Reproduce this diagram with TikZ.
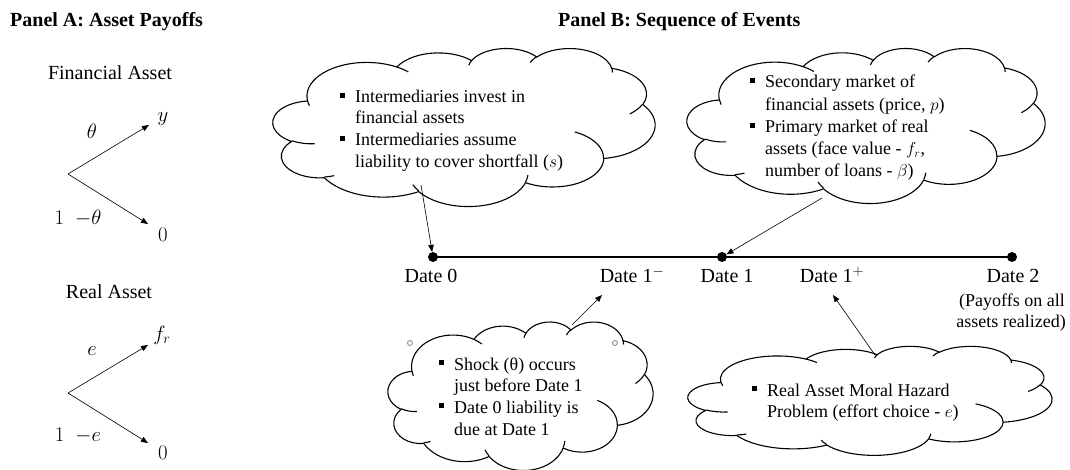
\documentclass[tikz,border=0pt]{standalone}
\usepackage{fontspec}
\setmainfont{Liberation Serif}
\usetikzlibrary{arrows.meta}

% one arc of an Office-style cloud: x radius, y radius, start angle, sweep (visual angles)
\newcommand\cldarc[4]{arc[x radius=#1, y radius=#2,
  start angle={atan2((#1)*sin(#3),(#2)*cos(#3))},
  delta angle={mod(atan2((#1)*sin((#3)+(#4)),(#2)*cos((#3)+(#4)))-atan2((#1)*sin(#3),(#2)*cos(#3))+720,360)}]}

\newcommand\drawcloud[4]{%
\begin{scope}[shift={(#1,#2)}, xscale=#3/432, yscale=#4/432]
\draw[cloudline, fill=white] (39,143.7)
 \cldarc{67.53}{91.90}{-190.4875}{123.7805}
 \cldarc{53.33}{72.67}{-144.1024}{89.9452}
 \cldarc{43.65}{59.45}{-145.8079}{99.7230}
 \cldarc{48.57}{65.95}{-130.9861}{117.2417}
 \cldarc{53.33}{72.73}{-78.7089}{109.0269}
 \cldarc{67.75}{92.20}{-46.2673}{130.2690}
 \cldarc{57.85}{78.67}{0.6250}{114.0333}
 \cldarc{67.52}{92.15}{22.4516}{115.1726}
 \cldarc{77.20}{105.43}{66.2426}{75.7110}
 \cldarc{43.60}{59.18}{-274.9421}{146.7356}
 \cldarc{43.45}{59.45}{-246.8285}{152.5189}
 -- cycle;
\draw[cloudline] (46.93,261.77) \cldarc{43.45}{59.45}{86.7420}{26.4295}
 (69.28,348.99) \cldarc{43.60}{59.18}{73.6105}{11.4475}
 (164.78,390.90) \cldarc{67.52}{92.15}{137.6242}{14.0811}
 (288.27,347.51) \cldarc{67.52}{92.15}{6.4533}{15.9984}
 (341.29,229.54) \cldarc{57.85}{78.67}{-70.2924}{70.9174}
 (417.98,153.54) \cldarc{53.33}{72.73}{30.3180}{27.7515}
 (383.24,54.26) \cldarc{48.57}{65.95}{-13.7443}{14.8589}
 (290.78,39.52) \cldarc{48.57}{65.95}{-149.1815}{18.1954}
 (221.41,47.20) \cldarc{43.65}{59.45}{-163.4943}{17.6864}
 (140.00,51.92) \cldarc{67.53}{91.90}{-66.7070}{12.3194}
 (41.27,157.89) \cldarc{67.53}{91.90}{157.6544}{11.8582};
\end{scope}}

\newcommand\blt{\makebox[15pt][l]{\rule[5pt]{5pt}{5pt}}}

\begin{document}
\begin{tikzpicture}[x=1pt,y=-1pt,line join=round,
  arr/.style={-{Triangle[length=7pt,width=5.5pt]}, line width=0.6pt},
  cloudline/.style={line width=1.1pt},
  tline/.style={line width=2pt},
  tdot/.style={circle, fill=black, inner sep=0pt, minimum size=10pt},
  lbl/.style={font=\fontsize{20}{24}\selectfont, inner sep=0pt},
  mlbl/.style={font=\fontsize{22}{26}\selectfont, inner sep=0pt},
  dlbl/.style={font=\fontsize{20}{24}\selectfont, inner sep=0pt, anchor=base},
  ctext/.style={font=\fontsize{18}{22}\selectfont, inner sep=0pt, anchor=base west},
  ptext/.style={font=\fontsize{18}{22}\selectfont, inner sep=0pt, anchor=base},
  ttl/.style={font=\fontsize{20}{24}\selectfont\bfseries, inner sep=0pt, anchor=base west},
  handle/.style={circle, draw=gray, fill=white, line width=0.8pt, inner sep=0pt, minimum size=5pt}]
\useasboundingbox (0,0) rectangle (1070,470);
\fill[white] (0,0) rectangle (1070,470);

% titles
\node[ttl] (ta) at (10,27) {Panel A: Asset Payoffs};
\node[ttl] (tb) at (558,27) {Panel B: Sequence of Events};

% Panel A
\node[lbl, anchor=base] (fa) at (110,80) {Financial Asset};
\coordinate (fr) at (68,174);
\coordinate (fu) at (149,125);
\coordinate (fd) at (148,224);
\draw[arr] (fr) -- (fu);
\draw[arr] (fr) -- (fd);
\node[mlbl] (fth) at (92,131) {$\theta$};
\node[mlbl] (fy) at (163,119) {$y$};
\node[mlbl] (f1) at (78,218) {$1\hspace{11pt}{-}\theta$};
\node[mlbl] (f0) at (163,235) {$0$};

\node[lbl, anchor=base] (ra) at (109,298) {Real Asset};
\coordinate (rr) at (68,393);
\coordinate (ru) at (148,345);
\coordinate (rd) at (148,443);
\draw[arr] (rr) -- (ru);
\draw[arr] (rr) -- (rd);
\node[mlbl] (re) at (92,351) {$e$};
\node[mlbl] (rf) at (162,335) {$f_r$};
\node[mlbl] (r1) at (78,436) {$1\hspace{11pt}{-}e$};
\node[mlbl] (r0) at (163,453) {$0$};

% clouds
\drawcloud{273}{48}{382}{158}
\drawcloud{687}{48}{358}{155}
\drawcloud{388}{321.5}{265}{148.5}
\drawcloud{688}{346}{364}{109}

\node[handle] (h1) at (410,343) {};
\node[handle] (h2) at (615,343) {};

% cloud texts
\node[ctext] (a1) at (340,103) {\blt Intermediaries invest in};
\node[ctext] (a2) at (355,124) {financial assets};
\node[ctext] (a3) at (340,146) {\blt Intermediaries assume};
\node[ctext] (a4) at (355,168) {liability to cover shortfall ($s$)};

\node[ctext] (b1) at (750,88) {\blt Secondary market of};
\node[ctext] (b2) at (765,111) {financial assets (price, $p$)};
\node[ctext] (b3) at (750,133) {\blt Primary market of real};
\node[ctext] (b4) at (765,155) {assets (face value - $f_r$,};
\node[ctext] (b5) at (765,177) {number of loans - $\beta$)};

\node[ctext] (c1) at (439,370) {\blt Shock (θ) occurs};
\node[ctext] (c2) at (454,391) {just before Date 1};
\node[ctext] (c3) at (439,413) {\blt Date 0 liability is};
\node[ctext] (c4) at (454,435) {due at Date 1};

\node[ctext] (m1) at (752,396) {\blt Real Asset Moral Hazard};
\node[ctext] (m2) at (767,417) {Problem (effort choice - $e$)};

% timeline
\node[tdot] (d0) at (433,257) {};
\node[tdot] (d1) at (722,257) {};
\node[tdot] (d2) at (1012,257) {};
\draw[tline] (d0.center) -- (d2.center);

\node[dlbl] (l0) at (431,283) {Date 0};
\node[dlbl] (l1m) at (632,283) {Date 1$^{-}$};
\node[dlbl] (l1) at (727,283) {Date 1};
\node[dlbl] (l1p) at (832,283) {Date 1$^{+}$};
\node[dlbl] (l2) at (1013,283) {Date 2};
\node[ptext] (p1) at (1012,306) {(Payoffs on all};
\node[ptext] (p2) at (1011,327) {assets realized)};

% connectors
\coordinate (s1) at (421,185);
\coordinate (s2) at (822,198);
\coordinate (s3) at (572,325);
\coordinate (t3) at (602,295);
\coordinate (s4) at (875,355);
\coordinate (t4) at (833,295);
\draw[arr] (s1) -- (d0);
\draw[arr] (s2) -- (d1);
\draw[arr] (s3) -- (t3);
\draw[arr] (s4) -- (t4);
\end{tikzpicture}
\end{document}
